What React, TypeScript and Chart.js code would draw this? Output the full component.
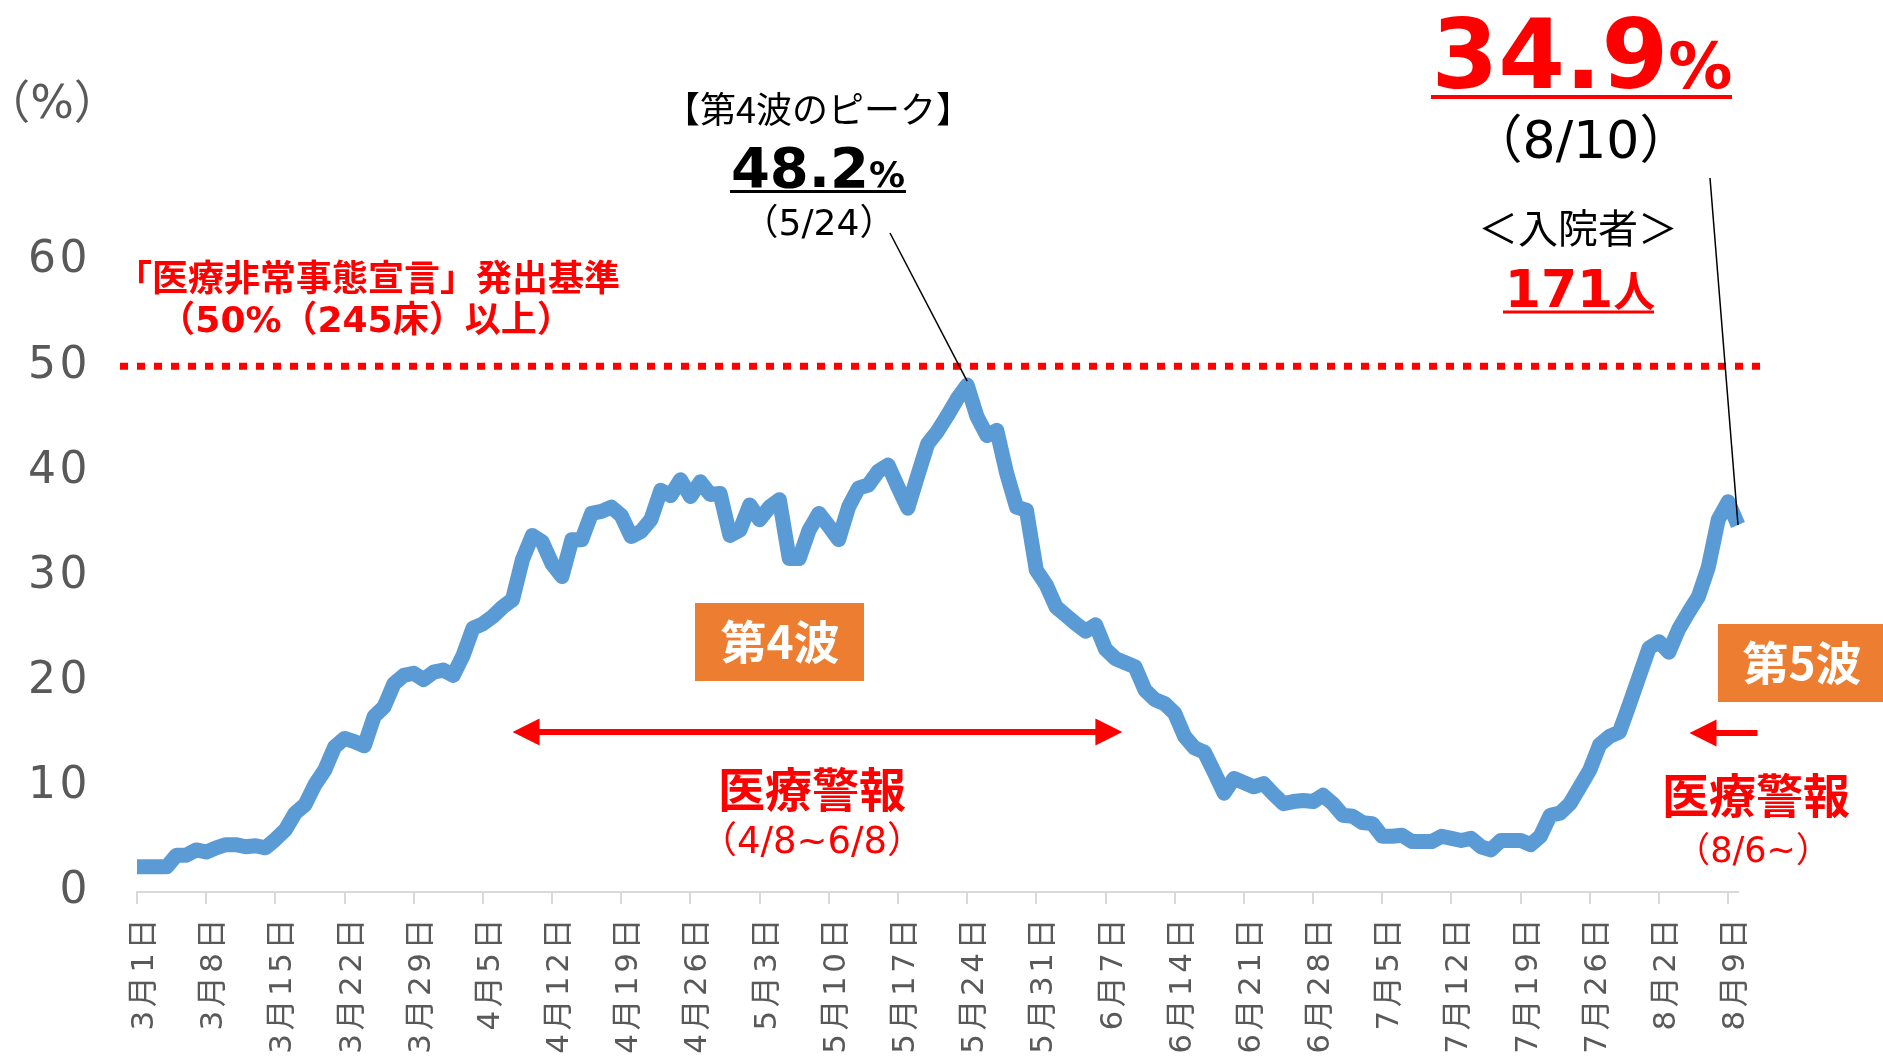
import React, { useEffect, useRef } from 'react';
import { Chart, registerables } from 'chart.js';

Chart.register(...registerables);

// ---- data (病床使用率 %, daily) ----
const monthNames = ['3', '4', '5', '6', '7', '8'];
const marchValues = [2.4, 2.4, 2.4, 2.4, 3.5, 3.5, 4.0, 3.8, 4.2, 4.5, 4.5, 4.3, 4.4, 4.2, 5.0, 5.9, 7.5, 8.3, 10.2, 11.6, 13.8, 14.6, 14.3, 13.9, 16.7, 17.6, 19.8, 20.6, 20.8, 20.2, 20.9];
const aprilValues = [21.1, 20.6, 22.5, 25.1, 25.5, 26.2, 27.1, 27.8, 31.6, 33.9, 33.3, 31.2, 30.0, 33.5, 33.5, 36.0, 36.2, 36.6, 35.8, 33.8, 34.3, 35.4, 38.2, 37.7, 39.2, 37.6, 39.0, 37.8, 37.9, 33.9];
const mayValues = [34.4, 36.8, 35.4, 36.6, 37.3, 31.7, 31.7, 34.4, 36.0, 34.8, 33.5, 36.6, 38.4, 38.7, 40.0, 40.6, 38.5, 36.5, 39.6, 42.6, 43.8, 45.3, 46.9, 48.2, 45.2, 43.4, 43.9, 39.8, 36.6, 36.3, 30.6];
const juneValues = [29.2, 27.1, 26.3, 25.5, 24.8, 25.4, 23.1, 22.2, 21.8, 21.4, 19.2, 18.3, 17.9, 17.0, 14.8, 13.7, 13.3, 11.4, 9.4, 10.8, 10.4, 10.0, 10.3, 9.3, 8.4, 8.6, 8.7, 8.6, 9.2, 8.4];
const julyValues = [7.3, 7.2, 6.6, 6.5, 5.3, 5.3, 5.4, 4.8, 4.8, 4.8, 5.3, 5.1, 4.9, 5.1, 4.3, 4.0, 4.9, 4.9, 4.9, 4.5, 5.3, 7.3, 7.5, 8.4, 10.0, 11.6, 14.0, 14.8, 15.2, 17.8, 20.5];
const augustValues = [23.2, 23.8, 22.8, 25.0, 26.6, 28.1, 30.9, 35.4, 37.1, 34.9];

const monthValues = [marchValues, aprilValues, mayValues, juneValues, julyValues, augustValues];
const categories: string[] = monthValues.flatMap((arr, m) => arr.map((_, i) => `${monthNames[m]}月${i + 1}日`));
const occupancy: number[] = monthValues.flat();

const xTickLabels = ['3月1日', '3月8日', '3月15日', '3月22日', '3月29日', '4月5日', '4月12日', '4月19日', '4月26日', '5月3日', '5月10日', '5月17日', '5月24日', '5月31日', '6月7日', '6月14日', '6月21日', '6月28日', '7月5日', '7月12日', '7月19日', '7月26日', '8月2日', '8月9日'];
const yTickValues = [0, 10, 20, 30, 40, 50, 60];
const thresholdRate = 50;
const alert4Start = '4月8日';
const alert4End = '6月8日';
const alert5Start = '8月6日';
const peakDate = '5月24日';
const latestDate = '8月10日';

const JP = '"Noto Sans CJK JP"';
const NUM = '"DejaVu Sans", "Noto Sans CJK JP"';
const RED = '#ff0000';
const ORANGE = '#ED7D31';
const GRAY = '#595959';

function txt(ctx: CanvasRenderingContext2D, s: string, x: number, y: number, font: string, color: string, baseline: CanvasTextBaseline = 'middle') {
  ctx.font = font;
  ctx.fillStyle = color;
  ctx.textAlign = 'center';
  ctx.textBaseline = baseline;
  ctx.fillText(s, x, y);
}

function mixed(ctx: CanvasRenderingContext2D, parts: [string, string][], cx: number, baseY: number, color: string) {
  ctx.textBaseline = 'alphabetic';
  ctx.textAlign = 'left';
  ctx.fillStyle = color;
  let w = 0;
  parts.forEach(([s, f]) => { ctx.font = f; w += ctx.measureText(s).width; });
  let x = cx - w / 2;
  parts.forEach(([s, f]) => { ctx.font = f; ctx.fillText(s, x, baseY); x += ctx.measureText(s).width; });
}

function hline(ctx: CanvasRenderingContext2D, x1: number, x2: number, y: number, w: number, color: string) {
  ctx.strokeStyle = color;
  ctx.lineWidth = w;
  ctx.setLineDash([]);
  ctx.beginPath();
  ctx.moveTo(x1, y);
  ctx.lineTo(x2, y);
  ctx.stroke();
}

function head(ctx: CanvasRenderingContext2D, tipX: number, y: number, dir: number) {
  ctx.beginPath();
  ctx.moveTo(tipX, y);
  ctx.lineTo(tipX - dir * 27, y - 13.5);
  ctx.lineTo(tipX - dir * 27, y + 13.5);
  ctx.closePath();
  ctx.fill();
}

const annotations = {
  id: 'annotations',
  beforeDraw(chart: any) {
    (chart.ctx as any).letterSpacing = '3.5px';
  },
  beforeDatasetsDraw(chart: any) {
    const { ctx, chartArea, scales } = chart;
    (ctx as any).letterSpacing = '0px';
    const yy = scales.y.getPixelForValue(thresholdRate);
    ctx.save();
    ctx.strokeStyle = RED;
    ctx.lineWidth = 7;
    ctx.setLineDash([8, 9]);
    ctx.beginPath();
    ctx.moveTo(chartArea.left - 17, yy);
    ctx.lineTo(chartArea.right + 30, yy);
    ctx.stroke();
    ctx.restore();
  },
  afterDraw(chart: any) {
    const { ctx, scales } = chart;
    const xs = scales.x;
    const ys = scales.y;
    ctx.save();
    (ctx as any).letterSpacing = '0px';

    // (%) unit
    txt(ctx, '（%）', 52, 106, `46px ${NUM}`, GRAY);

    // criterion text
    txt(ctx, '「医療非常事態宣言」発出基準', 368, 277, `bold 36px ${JP}`, RED);
    txt(ctx, '（50%（245床）以上）', 366, 323, `bold 36px ${NUM}`, RED);

    // 4th wave peak
    txt(ctx, '【第4波のピーク】', 818, 109, `36px ${JP}`, '#000');
    mixed(ctx, [['48.2', `bold 56px ${NUM}`], ['%', `bold 36px ${NUM}`]], 818, 187, '#000');
    hline(ctx, 730, 906, 191.5, 3, '#000');
    txt(ctx, '（5/24）', 819, 235, `36px ${NUM}`, '#000', 'alphabetic');

    // leader lines
    const pi = categories.indexOf(peakDate);
    const li = categories.indexOf(latestDate);
    ctx.strokeStyle = '#000';
    ctx.lineWidth = 1.5;
    ctx.beginPath();
    ctx.moveTo(890, 233);
    ctx.lineTo(xs.getPixelForValue(pi), ys.getPixelForValue(occupancy[pi]) - 4);
    ctx.stroke();
    ctx.beginPath();
    ctx.moveTo(1710, 178);
    ctx.lineTo(xs.getPixelForValue(li), ys.getPixelForValue(occupancy[li]));
    ctx.stroke();

    // latest value
    mixed(ctx, [['34.9', `bold 96px ${NUM}`], ['%', `bold 64px ${NUM}`]], 1582, 88, RED);
    hline(ctx, 1431, 1732, 97, 4, RED);
    txt(ctx, '（8/10）', 1581, 158, `52px ${NUM}`, '#000', 'alphabetic');
    txt(ctx, '＜入院者＞', 1578, 228, `40px ${JP}`, '#000');
    mixed(ctx, [['171', `bold 52px ${NUM}`], ['人', `bold 42px ${JP}`]], 1580, 307, RED);
    hline(ctx, 1503, 1654, 312, 3, RED);

    // wave boxes
    ctx.fillStyle = ORANGE;
    ctx.fillRect(695, 603, 169, 78);
    txt(ctx, '第4波', 780, 642, `bold 46px ${JP}`, '#fff');
    ctx.fillStyle = ORANGE;
    ctx.fillRect(1718, 624, 170, 78);
    txt(ctx, '第5波', 1802, 663, `bold 46px ${JP}`, '#fff');

    // alert arrows
    const aY = 732;
    const l4 = xs.getPixelForValue(categories.indexOf(alert4Start));
    const r4 = xs.getPixelForValue(categories.indexOf(alert4End)) + 7;
    hline(ctx, l4 + 20, r4 - 20, aY, 6, RED);
    ctx.fillStyle = RED;
    head(ctx, l4, aY, -1);
    head(ctx, r4, aY, 1);
    const t5 = xs.getPixelForValue(categories.indexOf(alert5Start)) - 9;
    hline(ctx, t5 + 20, t5 + 68, aY + 1, 6, RED);
    ctx.fillStyle = RED;
    head(ctx, t5, aY + 1, -1);

    txt(ctx, '医療警報', 812, 789, `bold 47px ${JP}`, RED);
    txt(ctx, '（4/8~6/8）', 812, 853, `37px ${NUM}`, RED, 'alphabetic');
    txt(ctx, '医療警報', 1756, 795, `bold 47px ${JP}`, RED);
    txt(ctx, '（8/6~）', 1753, 862, `35px ${NUM}`, RED, 'alphabetic');

    ctx.restore();
  },
};

export default function App() {
  const ref = useRef<HTMLCanvasElement | null>(null);
  useEffect(() => {
    const canvas = ref.current;
    if (!canvas) return;
    const chart = new Chart(canvas, {
      type: 'line',
      data: {
        labels: categories,
        datasets: [{
          data: occupancy,
          borderColor: '#5B9BD5',
          borderWidth: 15,
          pointRadius: 0,
          tension: 0,
          borderJoinStyle: 'round',
          borderCapStyle: 'butt',
          fill: false,
        }],
      },
      options: {
        responsive: false,
        animation: false,
        devicePixelRatio: 1,
        layout: { padding: { top: 261, right: 145, left: 0, bottom: 0 } },
        plugins: { legend: { display: false }, tooltip: { enabled: false }, title: { display: false } },
        scales: {
          x: {
            type: 'category',
            offset: false,
            ticks: {
              autoSkip: false,
              maxRotation: 90,
              minRotation: 90,
              padding: 11,
              labelOffset: 8,
              color: GRAY,
              font: { family: NUM, size: 31 },
              callback: (_v: any, i: number) => (xTickLabels.includes(categories[i]) ? categories[i] : null),
            },
            grid: {
              drawOnChartArea: false,
              drawTicks: true,
              tickLength: 12,
              lineWidth: 2,
              color: '#d9d9d9',
            },
            border: { display: true, color: '#d9d9d9', width: 2 },
            afterFit: (s: any) => { s.height = 170; },
          },
          y: {
            min: 0,
            max: 60,
            afterBuildTicks: (s: any) => { s.ticks = yTickValues.map((v) => ({ value: v })); },
            ticks: { color: GRAY, padding: 46, font: { family: NUM, size: 44 } },
            grid: { display: false, drawTicks: false },
            border: { display: false },
            afterFit: (s: any) => { s.width = 137; },
          },
        },
      },
      plugins: [annotations],
    } as any);
    return () => chart.destroy();
  }, []);
  return (
    <div style={{ position: 'absolute', left: 0, top: 0, width: 1883, height: 1062, background: '#fff' }}>
      <canvas ref={ref} width={1883} height={1062} style={{ display: 'block' }} />
    </div>
  );
}
